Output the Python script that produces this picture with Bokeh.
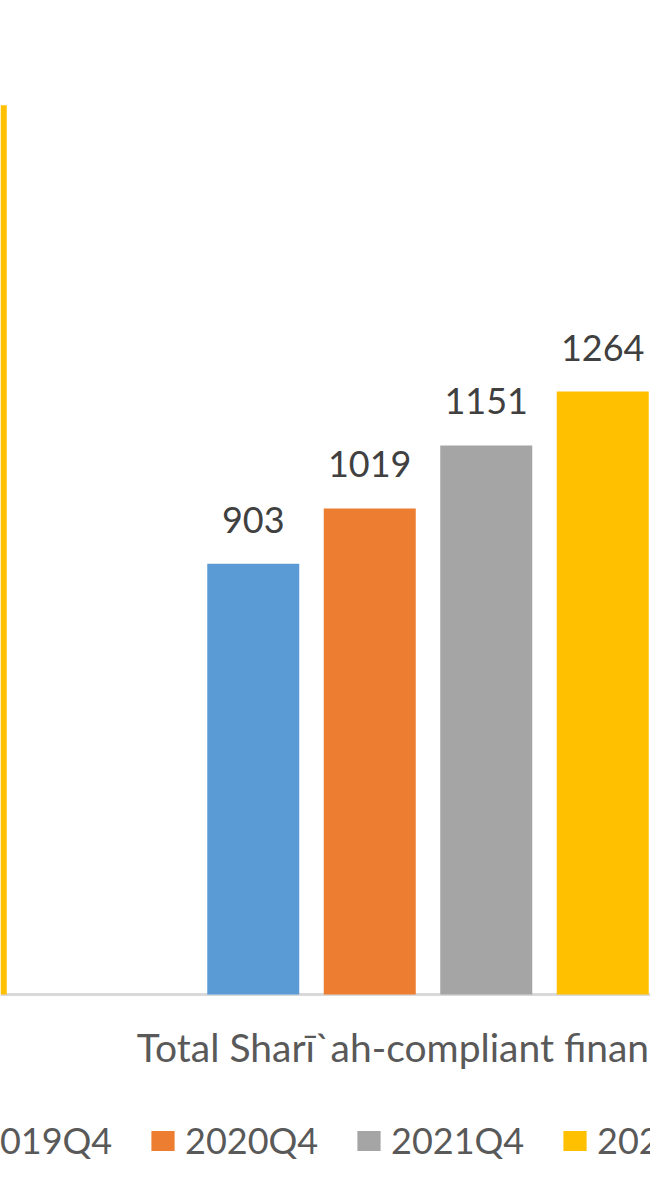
import numpy as np
from bokeh.plotting import figure
from bokeh.models import ColumnDataSource, Range1d, Span, LabelSet, Legend, LegendItem
from bokeh.core.properties import value
from bokeh.embed import file_html
from bokeh.resources import INLINE

# ---- data ----
categories = ["", "Total Sharī`ah-compliant financing"]
series = ["2019Q4", "2020Q4", "2021Q4", "2022Q4"]
v2019 = [None, 903]
v2020 = [None, 1019]
v2021 = [None, 1151]
v2022 = [1864, 1264]
values = [v2019, v2020, v2021, v2022]
colors = ["#5B9BD5", "#ED7D31", "#A5A5A5", "#FFC000"]
label_group = 1  # group whose value labels are in view

# ---- style / geometry ----
W, H = 650, 1180
cat_px = 642.0
center_px = 427.5
base_px = 994.0
bar_w = 92.0 / cat_px
step = 116.5 / cat_px
px_per_unit = 0.477
FONT = value("Lato")

p = figure(width=W, height=H,
           x_range=Range1d(1 + (0 - center_px) / cat_px, 1 + (W - center_px) / cat_px),
           y_range=Range1d(-(H - base_px) / px_per_unit, base_px / px_per_unit),
           output_backend="svg", toolbar_location=None,
           x_axis_location=None, y_axis_location=None,
           min_border=0, outline_line_color=None)
p.grid.visible = False

p.add_layout(Span(location=0, dimension="width", line_color="#D9D9D9",
                  line_width=3, level="underlay"))

renderers = []
lab_x, lab_y, lab_t = [], [], []
n = len(series)
for k, (name, vals, col) in enumerate(zip(series, values, colors)):
    off = (k - (n - 1) / 2) * step
    xs = [g + off for g, v in enumerate(vals) if v is not None]
    ts = [v for v in vals if v is not None]
    src = ColumnDataSource(dict(x=xs, top=ts))
    r = p.vbar(x="x", top="top", bottom=0, width=bar_w, source=src,
               fill_color=col, line_color=None)
    renderers.append(r)
    if vals[label_group] is not None:
        lab_x.append(label_group + off)
        lab_y.append(vals[label_group])
        lab_t.append(str(vals[label_group]))

val_src = ColumnDataSource(dict(x=lab_x, y=lab_y, text=lab_t))
p.add_layout(LabelSet(x="x", y="y", text="text", source=val_src, y_offset=31,
                      text_align="center", text_baseline="alphabetic",
                      text_font=FONT, text_font_size="36px", text_color="#404040"))

cat_src = ColumnDataSource(dict(x=list(range(len(categories))),
                                y=[0] * len(categories), text=categories))
p.add_layout(LabelSet(x="x", y="y", text="text", source=cat_src, y_offset=-67,
                      text_align="center", text_baseline="alphabetic",
                      text_font=FONT, text_font_size="39px", text_color="#595959"))

legend = Legend(items=[LegendItem(label=s, renderers=[r]) for s, r in zip(series, renderers)],
                orientation="horizontal", location=(-58, 18),
                glyph_width=29, glyph_height=25, label_standoff=8,
                label_width=169, spacing=0, padding=0, margin=0,
                border_line_alpha=0, background_fill_alpha=0,
                label_text_font="Lato", label_text_font_size="36px",
                label_text_color="#595959")
p.add_layout(legend)

open("out.html", "w").write(file_html(p, INLINE))
